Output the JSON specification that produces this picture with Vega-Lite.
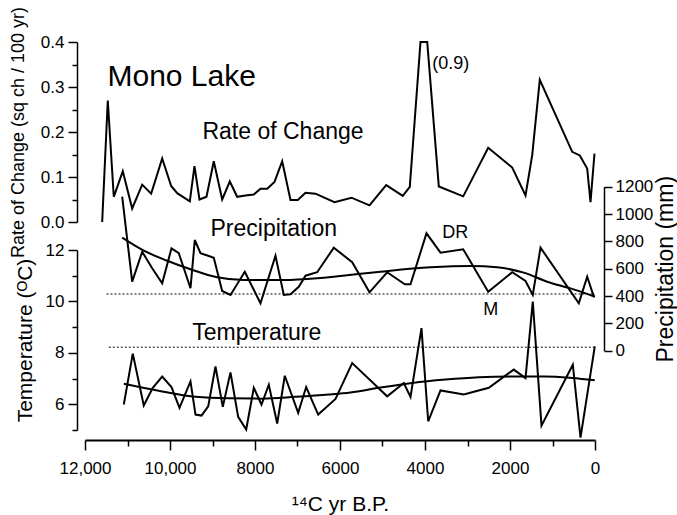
{
  "$schema": "https://vega.github.io/schema/vega-lite/v6.json",
  "width": 510,
  "height": 398,
  "autosize": "none",
  "padding": {"left": 85, "top": 42, "right": 82, "bottom": 75},
  "background": "white",
  "config": {
    "view": {"stroke": null},
    "font": "Liberation Sans",
    "axis": {
      "grid": false,
      "labelFont": "Liberation Sans",
      "labelFontSize": 17,
      "labelColor": "#000",
      "titleFont": "Liberation Sans",
      "titleColor": "#000",
      "titleFontWeight": "normal",
      "domainColor": "#000",
      "tickColor": "#000",
      "domainWidth": 1.5,
      "tickWidth": 1.5,
      "labelFlush": false,
      "labelOverlap": false
    }
  },
  "datasets": {
    "rate": [
      {"yr": 11596, "v": 0.0}, {"yr": 11464, "v": 0.27}, {"yr": 11323, "v": 0.056}, {"yr": 11111, "v": 0.113},
      {"yr": 10890, "v": 0.03}, {"yr": 10654, "v": 0.083}, {"yr": 10443, "v": 0.063}, {"yr": 10184, "v": 0.141},
      {"yr": 9972, "v": 0.08}, {"yr": 9831, "v": 0.064}, {"yr": 9534, "v": 0.046}, {"yr": 9424, "v": 0.124},
      {"yr": 9306, "v": 0.05}, {"yr": 9141, "v": 0.056}, {"yr": 8970, "v": 0.135}, {"yr": 8772, "v": 0.05},
      {"yr": 8593, "v": 0.09}, {"yr": 8419, "v": 0.056}, {"yr": 8224, "v": 0.059}, {"yr": 8028, "v": 0.061},
      {"yr": 7871, "v": 0.074}, {"yr": 7713, "v": 0.074}, {"yr": 7541, "v": 0.089}, {"yr": 7360, "v": 0.135},
      {"yr": 7165, "v": 0.049}, {"yr": 6993, "v": 0.049}, {"yr": 6812, "v": 0.065}, {"yr": 6577, "v": 0.063},
      {"yr": 6130, "v": 0.044}, {"yr": 5730, "v": 0.054}, {"yr": 5306, "v": 0.037}, {"yr": 4913, "v": 0.082},
      {"yr": 4523, "v": 0.058}, {"yr": 4358, "v": 0.078}, {"yr": 4106, "v": 0.4}, {"yr": 3948, "v": 0.4},
      {"yr": 3675, "v": 0.079}, {"yr": 3101, "v": 0.057}, {"yr": 2513, "v": 0.165}, {"yr": 1948, "v": 0.121},
      {"yr": 1635, "v": 0.059}, {"yr": 1478, "v": 0.148}, {"yr": 1299, "v": 0.316}, {"yr": 536, "v": 0.156},
      {"yr": 358, "v": 0.148}, {"yr": 184, "v": 0.119}, {"yr": 106, "v": 0.044}, {"yr": 12, "v": 0.152}
    ],
    "precip": [
      {"yr": 11125, "v": 1127}, {"yr": 10890, "v": 505}, {"yr": 10654, "v": 724}, {"yr": 10419, "v": 603},
      {"yr": 10184, "v": 493}, {"yr": 9965, "v": 749}, {"yr": 9793, "v": 713}, {"yr": 9518, "v": 457},
      {"yr": 9417, "v": 810}, {"yr": 9283, "v": 713}, {"yr": 9087, "v": 693}, {"yr": 8970, "v": 680},
      {"yr": 8772, "v": 437}, {"yr": 8577, "v": 408}, {"yr": 8240, "v": 578}, {"yr": 7871, "v": 347},
      {"yr": 7518, "v": 695}, {"yr": 7323, "v": 408}, {"yr": 7165, "v": 413}, {"yr": 6970, "v": 468},
      {"yr": 6812, "v": 549}, {"yr": 6537, "v": 574}, {"yr": 6146, "v": 754}, {"yr": 5713, "v": 647},
      {"yr": 5306, "v": 427}, {"yr": 4890, "v": 574}, {"yr": 4475, "v": 486}, {"yr": 4341, "v": 486},
      {"yr": 3965, "v": 859}, {"yr": 3635, "v": 717}, {"yr": 3101, "v": 742}, {"yr": 2513, "v": 432},
      {"yr": 1948, "v": 574}, {"yr": 1635, "v": 510}, {"yr": 1464, "v": 408}, {"yr": 1282, "v": 754},
      {"yr": 381, "v": 347}, {"yr": 184, "v": 541}, {"yr": 24, "v": 392}
    ],
    "precipFit": [
      {"yr": 11125, "v": 827}, {"yr": 10617, "v": 732}, {"yr": 10066, "v": 658}, {"yr": 9518, "v": 596},
      {"yr": 8890, "v": 537}, {"yr": 8264, "v": 517}, {"yr": 7323, "v": 517}, {"yr": 6537, "v": 530},
      {"yr": 5988, "v": 547}, {"yr": 5047, "v": 578}, {"yr": 3871, "v": 610}, {"yr": 2930, "v": 620},
      {"yr": 2301, "v": 610}, {"yr": 1675, "v": 571}, {"yr": 1125, "v": 505}, {"yr": 576, "v": 456},
      {"yr": 0, "v": 395}
    ],
    "temp": [
      {"yr": 11087, "v": 5.99}, {"yr": 10876, "v": 7.97}, {"yr": 10617, "v": 5.95}, {"yr": 10405, "v": 6.64},
      {"yr": 10184, "v": 7.08}, {"yr": 9965, "v": 6.67}, {"yr": 9777, "v": 5.86}, {"yr": 9518, "v": 6.89},
      {"yr": 9400, "v": 5.6}, {"yr": 9259, "v": 5.56}, {"yr": 9101, "v": 5.92}, {"yr": 8930, "v": 7.47},
      {"yr": 8758, "v": 5.9}, {"yr": 8577, "v": 7.24}, {"yr": 8396, "v": 5.51}, {"yr": 8207, "v": 5.02},
      {"yr": 8028, "v": 6.64}, {"yr": 7847, "v": 5.99}, {"yr": 7675, "v": 6.76}, {"yr": 7478, "v": 5.25},
      {"yr": 7299, "v": 7.11}, {"yr": 6984, "v": 5.67}, {"yr": 6796, "v": 6.67}, {"yr": 6513, "v": 5.6},
      {"yr": 6106, "v": 6.21}, {"yr": 5713, "v": 7.6}, {"yr": 4890, "v": 6.31}, {"yr": 4499, "v": 6.83},
      {"yr": 4341, "v": 6.29}, {"yr": 4083, "v": 8.96}, {"yr": 3925, "v": 5.34}, {"yr": 3635, "v": 6.54},
      {"yr": 3087, "v": 6.38}, {"yr": 2499, "v": 6.64}, {"yr": 1911, "v": 7.35}, {"yr": 1635, "v": 7.02},
      {"yr": 1464, "v": 9.99}, {"yr": 1259, "v": 5.17}, {"yr": 522, "v": 7.54}, {"yr": 341, "v": 4.7},
      {"yr": 5, "v": 8.25}
    ],
    "tempFit": [
      {"yr": 11087, "v": 6.8}, {"yr": 10184, "v": 6.5}, {"yr": 9400, "v": 6.29}, {"yr": 8617, "v": 6.23},
      {"yr": 7831, "v": 6.22}, {"yr": 7049, "v": 6.29}, {"yr": 6264, "v": 6.38}, {"yr": 5753, "v": 6.46},
      {"yr": 5087, "v": 6.64}, {"yr": 4301, "v": 6.83}, {"yr": 3518, "v": 6.96}, {"yr": 2734, "v": 7.05},
      {"yr": 1948, "v": 7.08}, {"yr": 1165, "v": 7.08}, {"yr": 536, "v": 7.02}, {"yr": 5, "v": 6.93}
    ]
  },
  "layer": [
    {
      "layer": [
        {
          "data": {"name": "rate"},
          "mark": {"type": "line", "color": "#000", "strokeWidth": 2},
          "encoding": {
            "x": {
              "field": "yr", "type": "quantitative",
              "scale": {"domain": [0, 12000], "reverse": true, "nice": false, "zero": false},
              "axis": {
                "values": [0, 1000, 2000, 3000, 4000, 5000, 6000, 7000, 8000, 9000, 10000, 11000, 12000],
                "labelExpr": "datum.value % 2000 != 0 ? '' : (datum.value >= 10000 ? format(datum.value, ',') : format(datum.value, 'd'))",
                "tickSize": {"condition": {"test": "datum.value % 2000 == 0", "value": 10}, "value": 6},
                "domainWidth": 2,
                "labelPadding": 10,
                "title": "¹⁴C yr B.P.",
                "titleFontSize": 21,
                "titlePadding": 17
              }
            },
            "y": {
              "field": "v", "type": "quantitative",
              "scale": {"domain": [0, 0.4], "range": [180, 0], "nice": false, "zero": false},
              "axis": {
                "orient": "left",
                "offset": 8,
                "values": [0, 0.05, 0.1, 0.15, 0.2, 0.25, 0.3, 0.35, 0.4],
                "labelExpr": "round(datum.value * 20) % 2 == 0 ? format(datum.value, '.1f') : ''",
                "tickSize": {"condition": {"test": "round(datum.value * 20) % 2 == 0", "value": 9}, "value": 5},
                "labelPadding": 4,
                "title": "Rate of Change (sq ch / 100 yr)",
                "titleFontSize": 18,
                "titlePadding": 13
              }
            }
          }
        },
        {
          "data": {"values": [{"yr": 11471, "v": 0.3016, "t": "Mono Lake"}]},
          "mark": {"type": "text", "align": "left", "baseline": "alphabetic", "fontSize": 30, "font": "Liberation Sans", "color": "#000"},
          "encoding": {
            "x": {"field": "yr", "type": "quantitative"},
            "y": {"field": "v", "type": "quantitative"},
            "text": {"field": "t"}
          }
        },
        {
          "data": {"values": [{"yr": 9236, "v": 0.184, "t": "Rate of Change"}]},
          "mark": {"type": "text", "align": "left", "baseline": "alphabetic", "fontSize": 23, "font": "Liberation Sans", "color": "#000"},
          "encoding": {
            "x": {"field": "yr", "type": "quantitative"},
            "y": {"field": "v", "type": "quantitative"},
            "text": {"field": "t"}
          }
        },
        {
          "data": {"values": [{"yr": 3831, "v": 0.341, "t": "(0.9)"}]},
          "mark": {"type": "text", "align": "left", "baseline": "alphabetic", "fontSize": 18, "font": "Liberation Sans", "color": "#000"},
          "encoding": {
            "x": {"field": "yr", "type": "quantitative"},
            "y": {"field": "v", "type": "quantitative"},
            "text": {"field": "t"}
          }
        }
      ]
    },
    {
      "layer": [
        {
          "data": {"name": "precip"},
          "mark": {"type": "line", "color": "#000", "strokeWidth": 2},
          "encoding": {
            "x": {"field": "yr", "type": "quantitative"},
            "y": {
              "field": "v", "type": "quantitative",
              "scale": {"domain": [0, 1200], "range": [308.7, 144.7], "nice": false, "zero": false},
              "axis": {
                "orient": "right",
                "offset": 9,
                "values": [0, 100, 200, 300, 400, 500, 600, 700, 800, 900, 1000, 1100, 1200],
                "labelExpr": "datum.value % 200 == 0 ? format(datum.value, 'd') : ''",
                "tickSize": {"condition": {"test": "datum.value % 200 == 0", "value": 8}, "value": 4},
                "labelPadding": 3,
                "title": "Precipitation (mm)",
                "titleFontSize": 23,
                "titleAngle": 270,
                "titleBaseline": "top",
                "titlePadding": 2
              }
            }
          }
        },
        {
          "data": {"name": "precipFit"},
          "mark": {"type": "line", "color": "#000", "strokeWidth": 2, "interpolate": "monotone"},
          "encoding": {
            "x": {"field": "yr", "type": "quantitative"},
            "y": {"field": "v", "type": "quantitative"}
          }
        },
        {
          "data": {"values": [{"yr": 11494, "yr2": 0, "v": 415}]},
          "mark": {"type": "rule", "color": "#000", "strokeWidth": 1, "strokeDash": [2, 2]},
          "encoding": {
            "x": {"field": "yr", "type": "quantitative"},
            "x2": {"field": "yr2"},
            "y": {"field": "v", "type": "quantitative"}
          }
        },
        {
          "data": {"values": [{"yr": 9047, "v": 836, "t": "Precipitation"}]},
          "mark": {"type": "text", "align": "left", "baseline": "alphabetic", "fontSize": 23, "font": "Liberation Sans", "color": "#000"},
          "encoding": {
            "x": {"field": "yr", "type": "quantitative"},
            "y": {"field": "v", "type": "quantitative"},
            "text": {"field": "t"}
          }
        },
        {
          "data": {"values": [{"yr": 3595, "v": 822, "t": "DR"}, {"yr": 2631, "v": 261, "t": "M"}]},
          "mark": {"type": "text", "align": "left", "baseline": "alphabetic", "fontSize": 18, "font": "Liberation Sans", "color": "#000"},
          "encoding": {
            "x": {"field": "yr", "type": "quantitative"},
            "y": {"field": "v", "type": "quantitative"},
            "text": {"field": "t"}
          }
        }
      ]
    },
    {
      "layer": [
        {
          "data": {"name": "temp"},
          "mark": {"type": "line", "color": "#000", "strokeWidth": 2},
          "encoding": {
            "x": {"field": "yr", "type": "quantitative"},
            "y": {
              "field": "v", "type": "quantitative",
              "scale": {"domain": [5, 12], "range": [388, 208], "nice": false, "zero": false},
              "axis": {
                "orient": "left",
                "offset": 8,
                "values": [5, 6, 7, 8, 9, 10, 11, 12],
                "labelExpr": "datum.value % 2 == 0 ? format(datum.value, 'd') : ''",
                "tickSize": {"condition": {"test": "datum.value % 2 == 0", "value": 9}, "value": 5},
                "labelPadding": 4,
                "title": "Temperature (ᴼC)",
                "titleFontSize": 21,
                "titlePadding": 10
              }
            }
          }
        },
        {
          "data": {"name": "tempFit"},
          "mark": {"type": "line", "color": "#000", "strokeWidth": 2, "interpolate": "monotone"},
          "encoding": {
            "x": {"field": "yr", "type": "quantitative"},
            "y": {"field": "v", "type": "quantitative"}
          }
        },
        {
          "data": {"values": [{"yr": 11440, "yr2": 0, "v": 8.22}]},
          "mark": {"type": "rule", "color": "#000", "strokeWidth": 1, "strokeDash": [2, 2]},
          "encoding": {
            "x": {"field": "yr", "type": "quantitative"},
            "x2": {"field": "yr2"},
            "y": {"field": "v", "type": "quantitative"}
          }
        },
        {
          "data": {"values": [{"yr": 9478, "v": 8.51, "t": "Temperature"}]},
          "mark": {"type": "text", "align": "left", "baseline": "alphabetic", "fontSize": 23, "font": "Liberation Sans", "color": "#000"},
          "encoding": {
            "x": {"field": "yr", "type": "quantitative"},
            "y": {"field": "v", "type": "quantitative"},
            "text": {"field": "t"}
          }
        }
      ]
    }
  ],
  "resolve": {"scale": {"y": "independent"}}
}
